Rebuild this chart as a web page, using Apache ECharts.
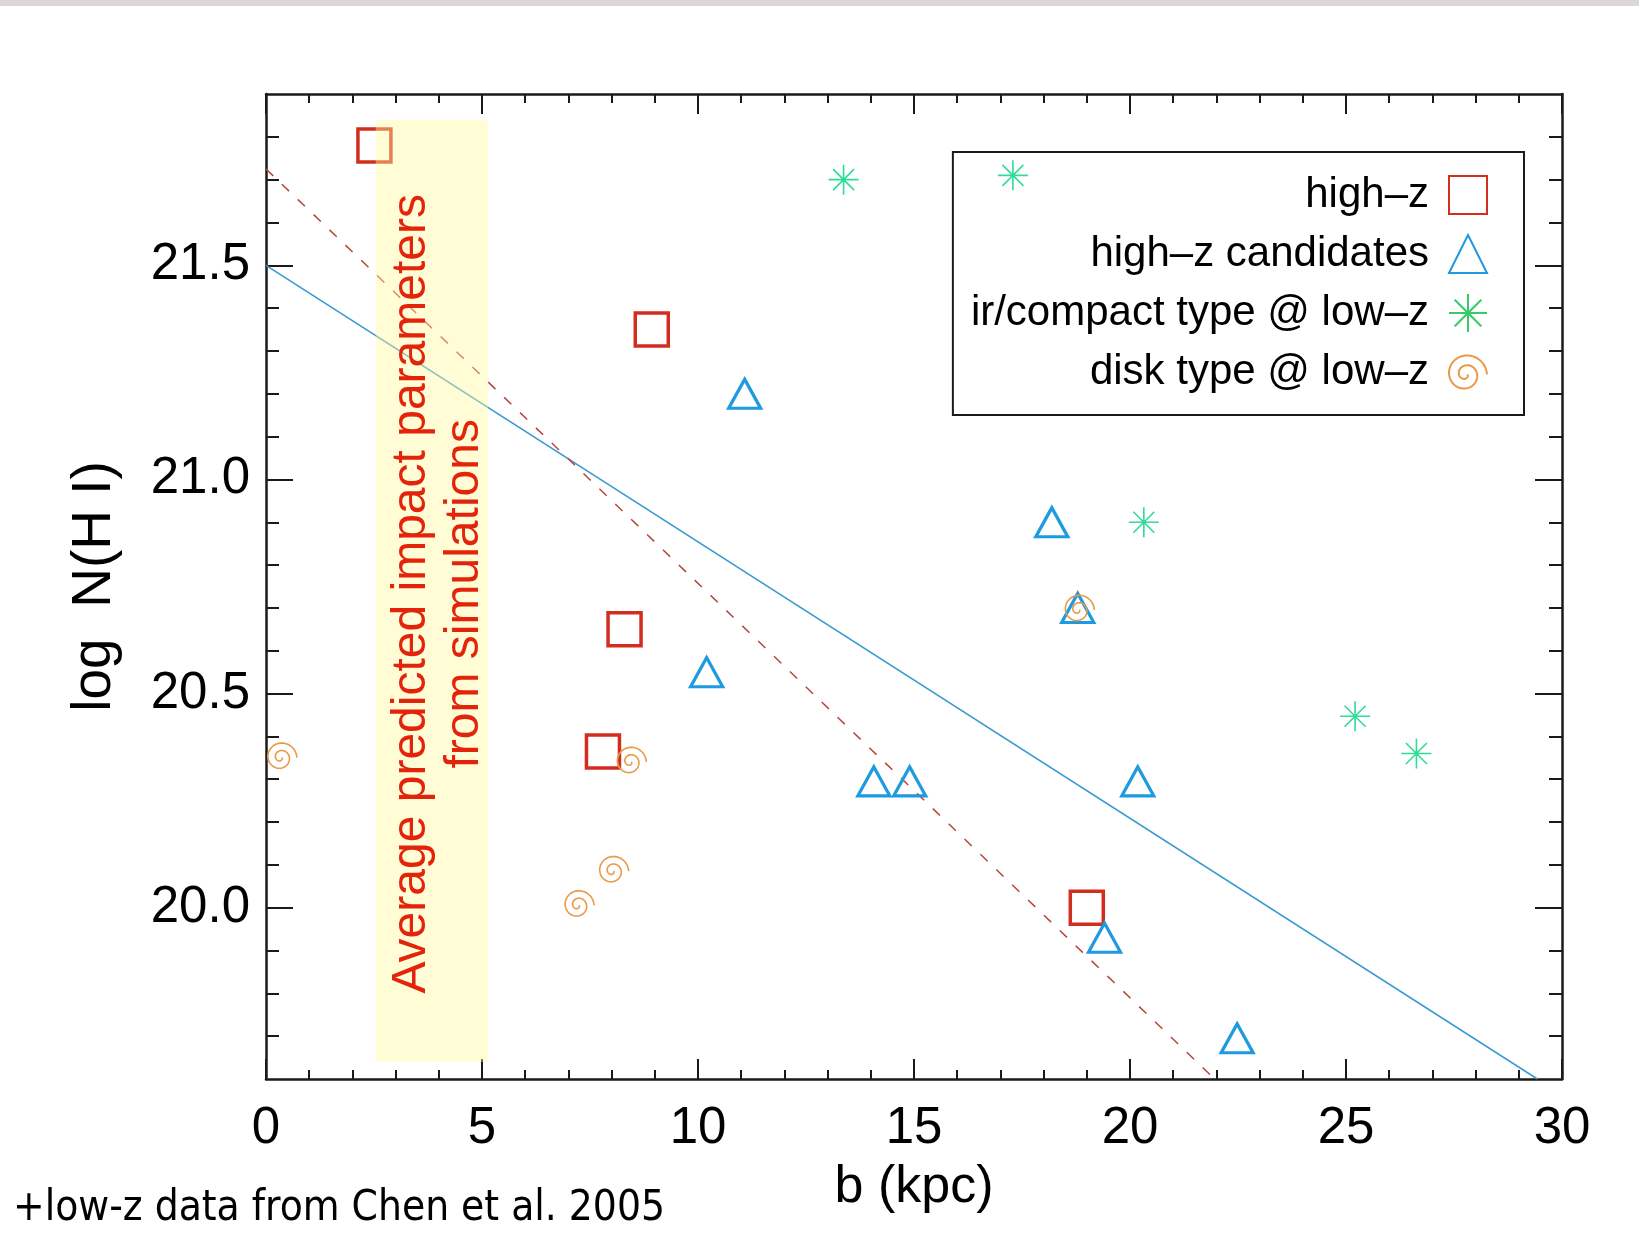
<!DOCTYPE html>
<html>
<head>
<meta charset="utf-8">
<title>log N(H I) vs impact parameter</title>
<script src="https://cdn.jsdelivr.net/npm/echarts@6/dist/echarts.min.js"></script>
<style>
  html, body { margin: 0; padding: 0; background: #ffffff; }
  #chart { width: 1639px; height: 1250px; }
</style>
</head>
<body>
<div id="chart"></div>
<script>
// Column density of absorbers against impact parameter b (kpc)
const highZ = [[2.51, 21.78], [8.93, 21.35], [8.30, 20.65], [7.80, 20.365], [19.00, 20.00]];
const highZCandidates = [[11.08, 21.20], [18.19, 20.90], [18.79, 20.70], [10.20, 20.55], [14.07, 20.295],
                         [14.90, 20.295], [20.18, 20.295], [19.41, 19.93], [22.48, 19.695]];
const irCompactLowZ = [[13.37, 21.70], [17.29, 21.71], [20.32, 20.90], [25.21, 20.447], [26.63, 20.36]];
const diskLowZ = [[0.38, 20.355], [8.47, 20.345], [8.06, 20.09], [7.26, 20.01], [18.84, 20.70]];

// Fitted relations, given by their end points on the frame
const fitAll = [[0, 21.5], [29.43, 19.6]];
const fitHighZ = [[0, 21.725], [21.96, 19.6]];

// Impact parameters predicted by simulations (b range, log N range of the shaded strip)
const simBandB = [2.54, 5.14];
const simBandLogN = [19.64, 21.84];

// Axis ticks
const yMajorTicks = [20.0, 20.5, 21.0, 21.5];
const yMinorTicks = [19.7, 19.8, 19.9, 20.1, 20.2, 20.3, 20.4, 20.6, 20.7, 20.8, 20.9,
                     21.1, 21.2, 21.3, 21.4, 21.6, 21.7, 21.8];

const seriesNames = ['high–z', 'high–z candidates', 'ir/compact type @ low–z', 'disk type @ low–z'];

const FONT = '"Liberation Sans", Arial, sans-serif';
const INK = '#1a1a1a';
const RED = '#D22E1F';
const BLUE = '#1E9BE0';
const GREEN = '#2EDC96';
const ORANGE = '#E89A4A';

// 8-spoke asterisk
const asteriskSymbol = 'path://M50 0L50 100M0 50L100 50M15 15L85 85M15 85L85 15';

// Open spiral drawn outward from the centre
function spiralSymbol() {
  const n = 110, turns = 2.0;
  const a0 = 0;
  const parts = [];
  for (let i = 0; i <= n; i++) {
    const t = i / n;
    const a = a0 + t * turns * 2 * Math.PI;
    const r = 4 + 46 * t;
    const x = 50 + r * Math.cos(a);
    const y = 50 + r * Math.sin(a);
    parts.push((i ? 'L' : 'M') + x.toFixed(2) + ' ' + y.toFixed(2));
  }
  return 'path://' + parts.join('');
}
const spiral = spiralSymbol();

function hollow(color, width) {
  return { color: 'rgba(0,0,0,0)', borderColor: color, borderWidth: width, opacity: 1 };
}

function xAxisDef(position, withLabels) {
  return {
    type: 'value', position: position, min: 0, max: 30, interval: 5,
    axisLine: { show: true, onZero: false, lineStyle: { color: INK, width: 2.5 } },
    axisTick: { show: true, inside: true, length: 20, lineStyle: { color: INK, width: 2 } },
    minorTick: { show: true, splitNumber: 5, length: 9, lineStyle: { color: INK, width: 2 } },
    splitLine: { show: false },
    minorSplitLine: { show: false },
    axisLabel: withLabels
      ? { show: true, margin: 24, color: '#000', fontSize: 51, fontFamily: FONT }
      : { show: false },
    name: withLabels ? 'b (kpc)' : '',
    nameLocation: 'middle',
    nameGap: 83,
    nameTextStyle: { fontSize: 52, fontFamily: FONT, color: '#000' }
  };
}

function yAxisDef(position, ticks, len, withLine, withLabels) {
  return {
    type: 'value', position: position, min: 19.6, max: 21.9,
    axisLine: { show: withLine, onZero: false, lineStyle: { color: INK, width: 2.5 } },
    axisTick: { show: true, inside: true, length: len, customValues: ticks,
                lineStyle: { color: INK, width: 2 } },
    splitLine: { show: false },
    axisLabel: withLabels
      ? { show: true, customValues: yMajorTicks, formatter: v => Number(v).toFixed(1),
          margin: 16, color: '#000', fontSize: 51, fontFamily: FONT }
      : { show: false },
    name: withLabels ? 'log  N(H I)' : '',
    nameLocation: 'middle',
    nameGap: 144,
    nameTextStyle: { fontSize: 55, fontFamily: FONT, color: '#000' }
  };
}

const chart = echarts.init(document.getElementById('chart'), null, { renderer: 'canvas' });

chart.setOption({
  animation: false,
  backgroundColor: '#ffffff',
  grid: { left: 266, top: 94, width: 1296, height: 985, containLabel: false },
  xAxis: [xAxisDef('bottom', true), xAxisDef('top', false)],
  yAxis: [
    yAxisDef('left', yMajorTicks, 27, true, true),
    yAxisDef('left', yMinorTicks, 13, false, false),
    yAxisDef('right', yMajorTicks, 27, true, false),
    yAxisDef('right', yMinorTicks, 13, false, false)
  ],
  legend: {
    orient: 'vertical',
    align: 'right',
    right: 115,
    top: 152,
    padding: [22, 36, 22, 18],
    itemWidth: 38,
    itemHeight: 38,
    itemGap: 17,
    borderColor: INK,
    borderWidth: 2,
    backgroundColor: 'transparent',
    selectedMode: false,
    textStyle: { fontSize: 42, fontFamily: FONT, color: '#000', lineHeight: 42, padding: [0, 15, 0, 0] },
    data: [
      { name: seriesNames[0], icon: 'rect', itemStyle: hollow(RED, 2) },
      { name: seriesNames[1], icon: 'triangle', itemStyle: hollow(BLUE, 2) },
      { name: seriesNames[2], icon: asteriskSymbol, itemStyle: hollow('#33CC66', 2) },
      { name: seriesNames[3], icon: spiral, itemStyle: hollow(ORANGE, 2) }
    ]
  },
  series: [
    {
      name: 'fit (all)', type: 'line', data: fitAll, symbol: 'none', silent: true, z: 3,
      lineStyle: { color: '#3A9AD2', width: 1.5 },
      markArea: {
        silent: true,
        z: 10,
        itemStyle: { color: 'rgba(255,248,155,0.41)', borderWidth: 0 },
        label: {
          show: true, position: 'inside', rotate: 90, offset: [-3, 6],
          formatter: 'Average predicted impact parameters\nfrom simulations',
          color: '#E3240B', fontSize: 48, lineHeight: 53, fontFamily: FONT, align: 'center'
        },
        emphasis: { disabled: true },
        data: [[
          { xAxis: simBandB[0], yAxis: simBandLogN[1] },
          { xAxis: simBandB[1], yAxis: simBandLogN[0] }
        ]]
      }
    },
    {
      name: 'fit (high-z)', type: 'line', data: fitHighZ, symbol: 'none', silent: true, z: 3,
      lineStyle: { color: '#B8453C', width: 1.5, type: [10, 12] }
    },
    {
      name: seriesNames[0], type: 'scatter', data: highZ, symbol: 'rect', symbolSize: 33, z: 4,
      itemStyle: hollow(RED, 3.5)
    },
    {
      name: seriesNames[1], type: 'scatter', data: highZCandidates, symbol: 'triangle',
      symbolSize: [32, 29], z: 4, itemStyle: hollow(BLUE, 3.2)
    },
    {
      name: seriesNames[2], type: 'scatter', data: irCompactLowZ, symbol: asteriskSymbol,
      symbolSize: 30, symbolKeepAspect: true, z: 4, itemStyle: hollow(GREEN, 1.6)
    },
    {
      name: seriesNames[3], type: 'scatter', data: diskLowZ, symbol: spiral,
      symbolSize: 29, symbolKeepAspect: true, z: 4, itemStyle: hollow(ORANGE, 1.6)
    }
  ],
  graphic: [
    { type: 'rect', left: 0, top: 0, silent: true,
      shape: { width: 1639, height: 6 }, style: { fill: '#DCD7D7' } },
    { type: 'text', left: 13, top: 1188, silent: true,
      style: { text: '+low-z data from Chen et al. 2005', fontSize: 42,
               fontFamily: '"DejaVu Sans Condensed", "DejaVu Sans", sans-serif', fill: '#000' } }
  ]
});
</script>
</body>
</html>
